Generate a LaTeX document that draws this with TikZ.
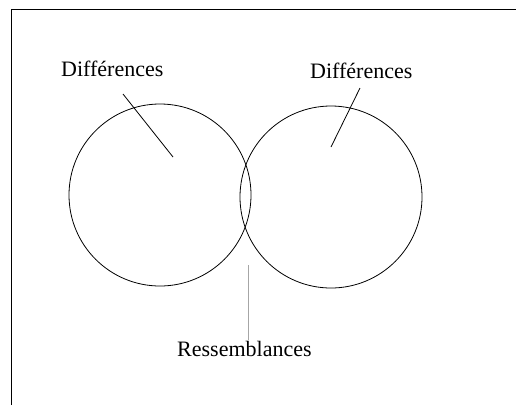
\documentclass[tikz,border=0pt]{standalone}
\usepackage{fontspec}
\setmainfont{Liberation Serif}
\begin{document}
\begin{tikzpicture}[x=1pt,y=-1pt,
  lbl/.style={anchor=base west,inner sep=0pt,font=\fontsize{22}{24}\selectfont},
  ring/.style={draw,line width=0.8pt},
  pointer/.style={draw,line width=0.8pt},
  graypointer/.style={draw,gray!70,line width=0.8pt}]
\useasboundingbox (0,0) rectangle (516,405);
\draw[line width=1pt] (11,405) -- (11,9) -- (516,9);
\draw[ring] (160,195) circle (91);
\draw[ring] (331,197) circle (91);
\node[lbl] (d1) at (61,76) {Différences};
\node[lbl] (d2) at (310,78) {Différences};
\node[lbl] (r) at (177,356) {Ressemblances};
\coordinate (a1) at (123,94);
\coordinate (b1) at (173,157);
\coordinate (a2) at (360,88);
\coordinate (b2) at (331,147);
\coordinate (a3) at (248,265);
\coordinate (b3) at (248,340);
\draw[pointer] (a1) -- (b1);
\draw[pointer] (a2) -- (b2);
\draw[graypointer] (a3) -- (b3);
\end{tikzpicture}
\end{document}
